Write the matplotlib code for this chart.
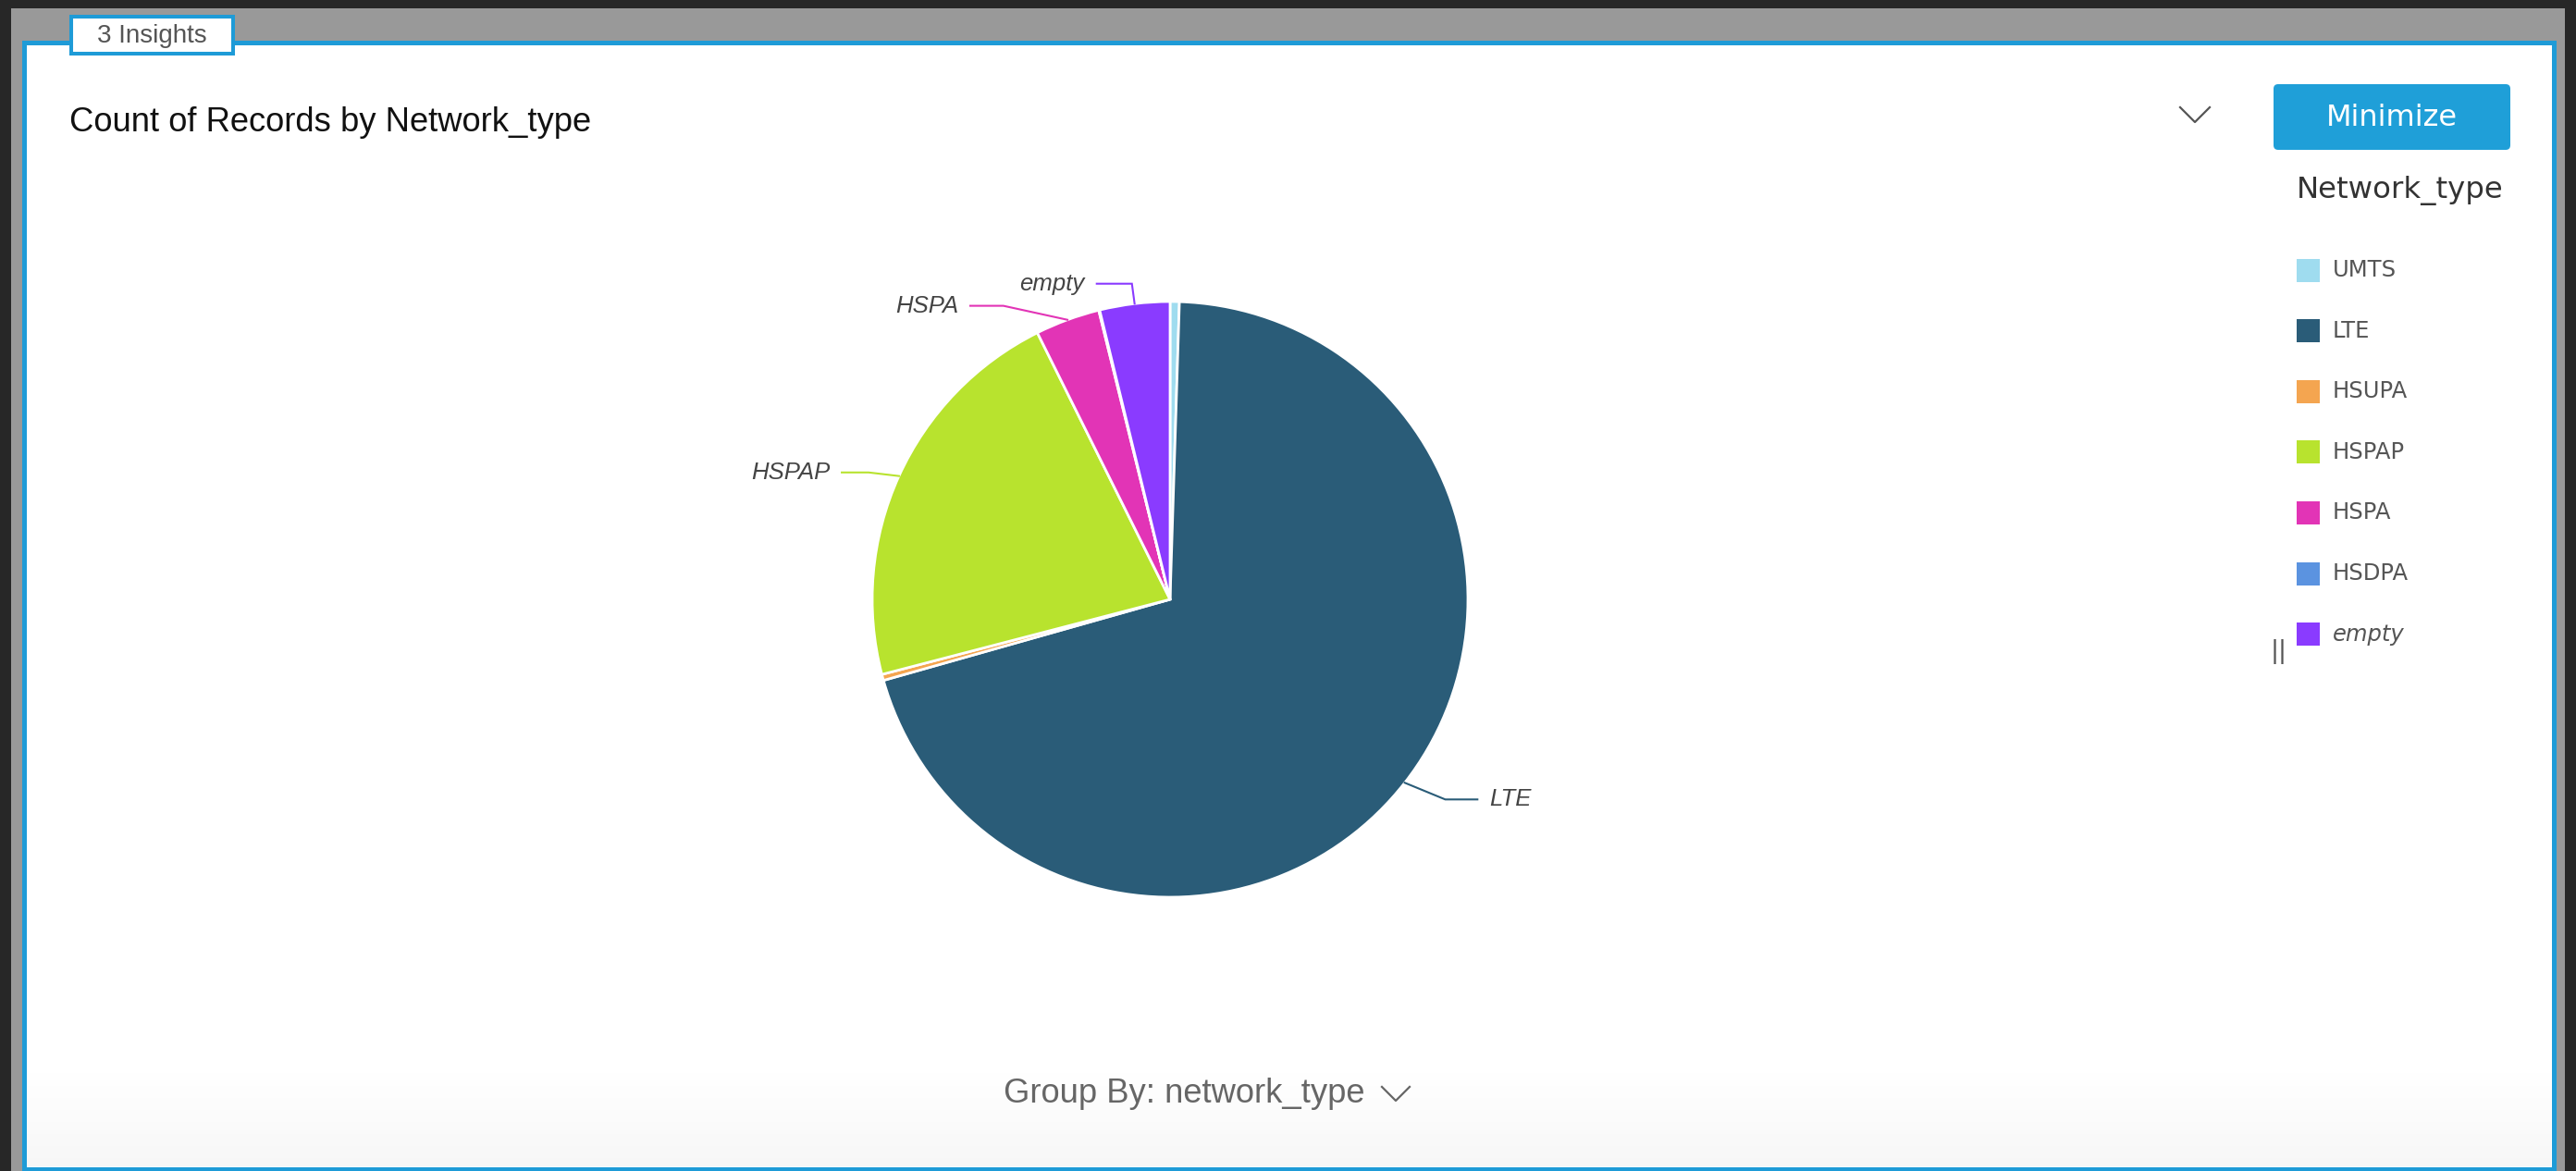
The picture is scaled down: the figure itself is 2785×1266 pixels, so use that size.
import matplotlib
matplotlib.use("Agg")
import numpy as np
import matplotlib.pyplot as plt
from matplotlib.patches import Rectangle, FancyBboxPatch

plt.rcParams["font.family"] = ["Liberation Sans", "DejaVu Sans"]

W, H = 2785, 1266

# Records per network type, in the order the wedges run clockwise from 12 o'clock
network_types = ["UMTS", "LTE", "HSUPA", "HSPAP", "HSPA", "HSDPA", "empty"]
record_counts = [50, 7010, 33, 2170, 350, 5, 380]
slice_colors = ["#9fdcef", "#2a5c78", "#f4a550", "#b8e32e", "#e234b6", "#5b93e0", "#8a3bff"]

# leader line per labelled wedge: elbow offset from the wedge edge (dx, dy)
# and length of the flat run, all in pie-radius units
leader_layout = {
    "LTE": (0.136, -0.056, 0.108),
    "HSPAP": (-0.102, 0.012, -0.090),
    "HSPA": (-0.215, 0.047, -0.111),
    "empty": (-0.009, 0.067, -0.118),
}

fig = plt.figure(figsize=(W / 100, H / 100), dpi=100)
fig.patch.set_facecolor("#272727")

# --- panel chrome, drawn in pixel coordinates ---
ui = fig.add_axes([0, 0, 1, 1])
ui.axis("off")
ui.add_patch(Rectangle((12, 9), 2761, H, facecolor="#999999", edgecolor="none", zorder=0))
ui.add_patch(Rectangle((25.5, 45.5), 2735, 1218, facecolor="white", edgecolor="none",
                       zorder=0.5))

# faint shading along the bottom of the panel
shade = np.linspace(1.0, 0.97, 120)[:, None, None] * np.ones((1, 1, 3))
ui.imshow(shade, extent=(28, 2758, 1261, 1160), origin="upper", aspect="auto",
          interpolation="bilinear", zorder=1)

ui.add_patch(Rectangle((25.5, 45.5), 2735, 1218, facecolor="none",
                       edgecolor="#1e9bd7", lw=3.6, zorder=2))

# tab
ui.add_patch(Rectangle((77, 18), 175, 40, facecolor="white", edgecolor="#1e9bd7",
                       lw=2.9, zorder=3))
ui.text(164, 39, "3 Insights", ha="center", va="center", fontsize=20,
        color="#555555", zorder=4)

ui.text(75, 133, "Count of Records by Network_type", ha="left", va="center",
        fontsize=26.2, color="#111111", zorder=4)

# dropdown chevron
ui.plot([2357, 2373, 2389], [116, 132, 116], color="#555555", lw=1.6, zorder=4)

# Minimize button
ui.add_patch(FancyBboxPatch((2458, 91), 256, 71, boxstyle="round,pad=0,rounding_size=5",
                            facecolor="#1f9fd8", edgecolor="none", zorder=3))
ui.text(2586, 128, "Minimize", ha="center", va="center", fontsize=23,
        color="white", family="DejaVu Sans", zorder=4)

# legend
ui.text(2483, 206, "Network_type", ha="left", va="center", fontsize=23.3,
        color="#333333", family="DejaVu Sans", zorder=4)
row_y = 292 + 65.6 * np.arange(len(network_types))
for name, color, y in zip(network_types, slice_colors, row_y):
    ui.add_patch(Rectangle((2483, y - 12.5), 25, 25, facecolor=color, edgecolor="none",
                           zorder=3))
    ui.text(2522, y, name, ha="left", va="center", fontsize=17.5, color="#555555",
            family="DejaVu Sans", style="italic" if name == "empty" else "normal", zorder=4)
ui.text(2464, 705, "||", ha="center", va="center", fontsize=19, color="#555555",
        family="DejaVu Sans", zorder=4)

# group-by selector
ui.text(1085, 1183, "Group By: network_type", ha="left", va="center", fontsize=26.2,
        color="#666666", zorder=4)
ui.plot([1494, 1509, 1524], [1175, 1190, 1175], color="#666666", lw=1.6, zorder=4)

ui.set_xlim(0, W)
ui.set_ylim(H, 0)

# --- pie ---
cx, cy, r = 1265, 648, 322
half = 1.5 * r
ax = fig.add_axes([(cx - half) / W, (H - cy - half) / H, 2 * half / W, 2 * half / H])
wedges, _ = ax.pie(record_counts, colors=slice_colors, startangle=90, counterclock=False,
                   wedgeprops=dict(edgecolor="white", linewidth=2))
ax.set_xlim(-1.5, 1.5)
ax.set_ylim(-1.5, 1.5)
ax.set_aspect("equal")
ax.axis("off")

for name, wedge, color in zip(network_types, wedges, slice_colors):
    if name not in leader_layout:
        continue
    dx, dy, run = leader_layout[name]
    mid = np.deg2rad((wedge.theta1 + wedge.theta2) / 2)
    x0, y0 = np.cos(mid), np.sin(mid)
    x1, y1 = x0 + dx, y0 + dy
    x2 = x1 + run
    ax.plot([x0, x1, x2], [y0, y1, y1], color=color, lw=1.5, clip_on=False,
            solid_joinstyle="miter")
    gap = 0.04 if run > 0 else -0.04
    ax.text(x2 + gap, y1, name, ha="left" if run > 0 else "right", va="center",
            fontsize=18.5, style="italic", color="#444444", clip_on=False)

fig.savefig("out.png", dpi=100, facecolor=fig.get_facecolor())
